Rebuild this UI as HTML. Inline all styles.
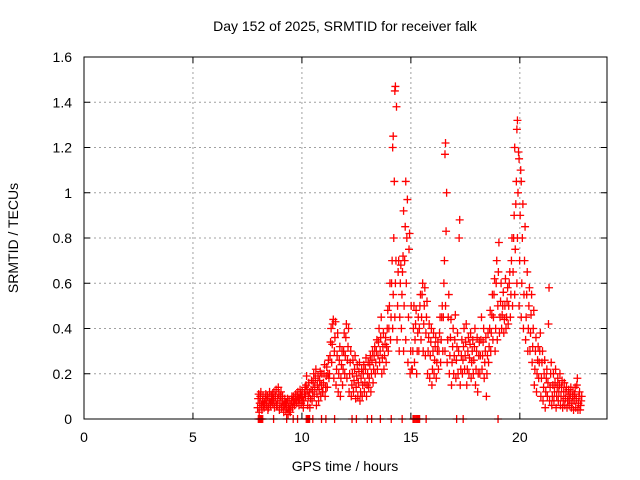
<!DOCTYPE html>
<html><head><meta charset="utf-8"><style>
html,body{margin:0;padding:0;background:#fff;}
svg{display:block;font-family:"Liberation Sans",sans-serif;}
</style></head><body>
<svg id="chart" width="640" height="480" viewBox="0 0 640 480" xmlns="http://www.w3.org/2000/svg">
<rect width="640" height="480" fill="#fff"/>
<text x="345" y="31" font-size="14" text-anchor="middle">Day 152 of 2025, SRMTID for receiver falk</text>
<text x="345" y="471" font-size="14" text-anchor="middle">GPS time / hours</text>
<text transform="translate(18,238) rotate(-90)" font-size="14" text-anchor="middle">SRMTID / TECUs</text>
<g id="grid"></g>
<g id="ticks"></g>
<g id="marks"></g>
<rect x="84" y="57" width="523" height="362" fill="none" stroke="#000" stroke-width="1"/>
</svg>
<script>
const xTicks=[0,5,10,15,20];
const yTicks=[0,0.2,0.4,0.6,0.8,1,1.2,1.4,1.6];
const yTickLabels=["0","0.2","0.4","0.6","0.8","1","1.2","1.4","1.6"];
const binTimes=[8.0,8.1,8.2,8.3,8.4,8.5,8.6,8.7,8.8,8.9,9.0,9.1,9.2,9.3,9.4,9.5,9.6,9.7,9.8,9.9,10.0,10.1,10.2,10.3,10.4,10.5,10.6,10.7,10.8,10.9,11.0,11.1,11.2,11.3,11.4,11.5,11.6,11.7,11.8,11.9,12.0,12.1,12.2,12.3,12.4,12.5,12.6,12.7,12.8,12.9,13.0,13.1,13.2,13.3,13.4,13.5,13.6,13.7,13.8,13.9,14.0,14.1,14.2,14.3,14.4,14.5,14.6,14.7,14.8,14.9,15.0,15.1,15.2,15.3,15.4,15.5,15.6,15.7,15.8,15.9,16.0,16.1,16.2,16.3,16.4,16.5,16.6,16.7,16.8,16.9,17.0,17.1,17.2,17.3,17.4,17.5,17.6,17.7,17.8,17.9,18.0,18.1,18.2,18.3,18.4,18.5,18.6,18.7,18.8,18.9,19.0,19.1,19.2,19.3,19.4,19.5,19.6,19.7,19.8,19.9,20.0,20.1,20.2,20.3,20.4,20.5,20.6,20.7,20.8,20.9,21.0,21.1,21.2,21.3,21.4,21.5,21.6,21.7,21.8,21.9,22.0,22.1,22.2,22.3,22.4,22.5,22.6,22.7,22.8];
const binValues=[[.05,.09,.11,.03],[.07,.1,.12,.06],[.04,.08,.1,.06],[.05,.07,.09,.11],[.06,.08,.1,.04],[.05,.09,.12,.07],[.06,.1,.08,.11],[.07,.09,.12,.05],[.08,.1,.13,.06],[.06,.09,.14,.11],
[.04,.07,.1,.12],[.05,.08,.1,.06],[.03,.06,.09,.07],[.04,.07,.05,.09],[.02,.05,.08,.04],[.03,.06,.08,.1],[.05,.08,.1,.07],[.06,.09,.11,.08],[.07,.1,.12,.09],[.06,.09,.13,.11],
[.07,.1,.12,.08],[.05,.08,.11,.14],[.1,.15,.19,.13],[.06,.1,.16,.12],[.05,.09,.13,.17],[.08,.12,.16,.2],[.1,.14,.18,.22],[.06,.11,.15,.19],[.08,.13,.17,.21],[.1,.15,.2,.12],
[.12,.16,.2,.24],[.1,.14,.19,.23],[.14,.2,.26,.18],[.2,.28,.34,.4],[.25,.33,.42,.44],[.18,.3,.36,.43],[.15,.22,.28,.38],[.12,.2,.26,.32],[.1,.18,.24,.3],[.15,.22,.3,.38],
[.2,.28,.36,.42],[.18,.26,.32,.4],[.12,.2,.25,.3],[.1,.15,.2,.26],[.12,.17,.22,.28],[.09,.14,.19,.24],[.1,.16,.21,.25],[.08,.12,.18,.22],[.1,.15,.2,.24],[.12,.16,.22,.27],
[.1,.15,.2,.25],[.14,.18,.24,.28],[.12,.2,.26,.3],[.16,.22,.28,.32],[.2,.25,.3,.35],[.22,.28,.34,.4],[.25,.3,.36,.45],[.2,.27,.32,.38],[.22,.28,.33,.36],[.25,.32,.4,.48],
[.3,.4,.5,.6],[.35,.45,.6,.7],[.4,.55,.8,1.05,1.2,1.25],[.45,.6,.7,1.38,1.45,1.47],[.35,.5,.65,.7],[.3,.45,.6,.68],[.4,.55,.65,.72],[.3,.5,.7,.85,.92],[.35,.6,.8,.97,1.05],[.25,.45,.75,.82],
[.2,.3,.5,.22],[.22,.3,.4,.5],[.25,.35,.42,.48],[.2,.3,.38,.45],[.3,.4,.5,.55],[.35,.45,.55,.6],[.3,.42,.5,.58],[.28,.38,.45,.52],[.2,.3,.36,.42],[.18,.28,.34,.4],
[.15,.22,.3,.38],[.2,.26,.32,.36],[.18,.25,.3,.34],[.22,.3,.38,.45],[.25,.35,.45,.5],[.3,.45,.6,.7],[.3,.5,.83,1.0,1.17,1.22],[.25,.35,.45,.55],[.2,.28,.36,.44],[.15,.25,.32,.4],
[.2,.28,.35,.46],[.18,.26,.32,.38],[.2,.3,.8,.88],[.15,.22,.28,.35],[.2,.26,.32,.4],[.22,.28,.34,.42],[.15,.22,.3,.36],[.2,.27,.33,.38],[.18,.25,.3,.35],[.2,.26,.32,.4],
[.15,.22,.3,.36],[.12,.2,.28,.34],[.2,.28,.35,.45],[.22,.28,.34,.4],[.18,.25,.3,.36],[.1,.2,.28,.38],[.25,.32,.4,.48],[.3,.38,.46,.55],[.35,.45,.55,.62],[.3,.4,.6,.7],
[.35,.5,.65,.78],[.38,.45,.52,.6],[.4,.46,.5,.56],[.38,.44,.5,.62],[.4,.45,.52,.58],[.42,.5,.6,.65],[.45,.55,.7,.8],[.5,.65,.8,.9],[.55,.75,.95,1.05,1.2],[.6,.8,1.0,1.18,1.28,1.32],
[.5,.7,.9,1.1,1.15],[.45,.6,.8,.95,1.05],[.4,.55,.7,.85],[.35,.45,.55,.65],[.3,.4,.5,.58],[.3,.38,.46,.55],[.25,.32,.4,.48],[.15,.22,.3,.36],[.12,.2,.26,.32],[.18,.25,.3,.38],
[.1,.18,.25,.3],[.08,.14,.2,.26],[.05,.12,.18,.22],[.1,.16,.42,.58],[.08,.14,.2,.25],[.06,.1,.15,.2],[.08,.12,.16,.22],[.05,.1,.14,.18],[.08,.12,.15,.2],[.06,.1,.14,.17],
[.05,.08,.12,.16],[.06,.09,.12,.14],[.05,.08,.1,.13],[.06,.09,.11,.14],[.05,.07,.1,.12],[.04,.08,.11,.14],[.05,.09,.15,.18],[.04,.07,.1,.12],[.04,.06,.08,.1]];
const zeroTimes=[8.0,8.05,8.1,8.15,8.2,8.7,9.3,9.6,9.8,10.2,10.25,10.3,10.35,10.5,10.9,11.1,11.5,12.3,12.5,13.0,13.2,13.6,14.1,14.6,15.1,15.15,15.2,15.25,15.3,15.35,15.4,15.7,17.1,17.4,19.0];

const X0=84,X1=607,Y0=419,Y1=57,XMAX=24,YMAX=1.6;
const sx=v=>X0+(X1-X0)*v/XMAX;
const sy=v=>Y0-(Y0-Y1)*v/YMAX;
const NS="http://www.w3.org/2000/svg";
function mk(tag,attrs,parent){const e=document.createElementNS(NS,tag);for(const k in attrs)e.setAttribute(k,attrs[k]);parent.appendChild(e);return e;}
const grid=document.getElementById('grid'),ticks=document.getElementById('ticks'),marks=document.getElementById('marks');
xTicks.forEach((t,i)=>{
  const x=sx(t);
  if(t>0){const g=mk('line',{x1:x,y1:Y0,x2:x,y2:Y1,stroke:'#a0a0a0','stroke-dasharray':'2,3','stroke-width':1},grid);
  
  }
  mk('line',{x1:x,y1:Y0,x2:x,y2:Y0-6,stroke:'#000'},ticks);
  mk('line',{x1:x,y1:Y1,x2:x,y2:Y1+6,stroke:'#000'},ticks);
  const l=mk('text',{x:x,y:442,'font-size':14,'text-anchor':'middle'},ticks);
  l.textContent=String(t);
  
  
});
yTicks.forEach((t,i)=>{
  const y=sy(t);
  if(t>0&&t<YMAX){const g=mk('line',{x1:X0,y1:y,x2:X1,y2:y,stroke:'#a0a0a0','stroke-dasharray':'2,3','stroke-width':1},grid);
  
  }
  mk('line',{x1:X0,y1:y,x2:X0+6,y2:y,stroke:'#000'},ticks);
  mk('line',{x1:X1,y1:y,x2:X1-6,y2:y,stroke:'#000'},ticks);
  const l=mk('text',{x:72,y:y+5,'font-size':14,'text-anchor':'end'},ticks);
  l.textContent=yTickLabels[i];
  
  
});
function plus(t,v){
  const x=sx(t),y=sy(v);
  const p=mk('path',{d:`M${x-4},${y}h8M${x},${y-4}v8`,stroke:'#ff0000','stroke-width':1.3,fill:'none'},marks);
  
  
}
binTimes.forEach((t,i)=>{
  binValues[i].forEach((v,k)=>plus(t+(k%4)*0.025-0.035,v));
});
zeroTimes.forEach(t=>plus(t,0));
</script>
</body></html>
